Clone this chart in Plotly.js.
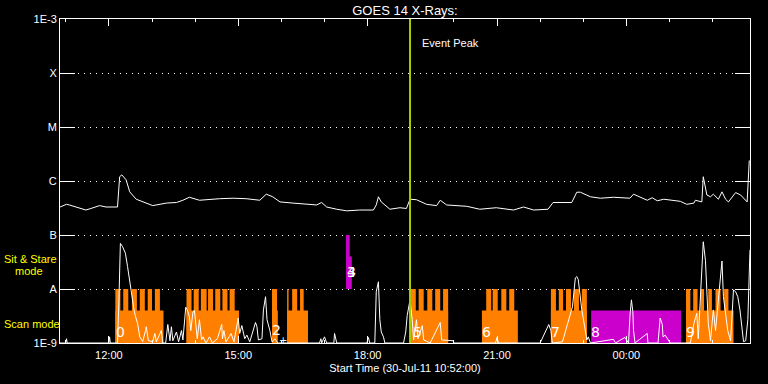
<!DOCTYPE html>
<html>
<head>
<meta charset="utf-8">
<script src="https://cdn.plot.ly/plotly-3.0.1.min.js"></script>
<style>html,body{margin:0;padding:0;background:#000;}#chart{width:768px;height:384px;}</style>
</head>
<body>
<div id="chart"></div>
<script>
// ---- data (times HH:MM; hours < 10 belong to 31-Jul-11) ----
const startDay = '2011-07-30';
const endDay = '2011-07-31';
const rangeStart = '10:52';
const rangeEnd = '02:52';

const yTickVals = [1e-9, 1e-8, 1e-7, 1e-6, 1e-5, 1e-4, 1e-3];
const yTickText = ['1E-9', 'A', 'B', 'C', 'M', 'X', '1E-3'];

// GOES long channel (1-8 A)
const longT = ['10:52','11:01','11:05','11:15','11:28','11:35','11:47','11:56','12:12','12:15',
               '12:18','12:24','12:29','12:38','12:52','13:01','13:20','13:34','13:43','13:52',
               '14:06','14:20','14:34','14:53','15:11','15:30','15:39','15:48','15:58','16:16',
               '16:35','16:49','16:56','17:03','17:17','17:31','17:49','18:08','18:12','18:15',
               '18:19','18:31','18:45','18:54','18:59','19:08','19:22','19:36','19:41','19:50',
               '20:18','20:36','20:59','21:23','21:37','21:51','22:11','22:18','22:44','22:51',
               '22:56','23:10','23:24','23:42','00:05','00:10','00:29','00:36','00:43','00:52',
               '01:15','01:24','01:34','01:36','01:45','01:47','01:52','01:57','02:01','02:08',
               '02:13','02:18','02:22','02:32','02:39','02:48','02:51'];
const longF = [3.3e-7,3.7e-7,3.6e-7,3.3e-7,2.9e-7,3.1e-7,3.5e-7,3.3e-7,3.3e-7,1.2e-6,
               1.3e-6,1.05e-6,6.3e-7,4.6e-7,3.9e-7,3.5e-7,3.9e-7,4.0e-7,4.4e-7,5.0e-7,
               4.4e-7,4.6e-7,4.7e-7,4.8e-7,4.7e-7,4.4e-7,5.7e-7,5.1e-7,4.1e-7,3.9e-7,
               3.7e-7,3.6e-7,4.0e-7,3.3e-7,3.0e-7,2.8e-7,2.9e-7,2.9e-7,3.6e-7,5.1e-7,
               4.1e-7,3.0e-7,3.2e-7,3.1e-7,4.6e-7,4.5e-7,3.7e-7,3.5e-7,4.4e-7,3.6e-7,
               3.4e-7,3.0e-7,3.2e-7,2.9e-7,3.3e-7,2.9e-7,3.0e-7,4.0e-7,4.0e-7,6.2e-7,
               6.2e-7,5.1e-7,4.8e-7,5.0e-7,4.8e-7,5.7e-7,4.4e-7,4.9e-7,4.3e-7,4.6e-7,
               4.2e-7,3.7e-7,3.9e-7,4.4e-7,4.1e-7,1.2e-6,5.5e-7,5.1e-7,5.7e-7,4.6e-7,
               6.3e-7,4.6e-7,4.1e-7,6.1e-7,5.5e-7,4.1e-7,2.4e-6];

// GOES short channel (0.5-4 A)
const shortT = ['10:52','11:00','11:01','11:02','12:00','12:01','12:02','12:12','12:14','12:16',
                '12:19','12:23','12:26','12:30','12:33','12:35','12:37','12:40','12:43','12:47',
                '12:51','12:52','12:55','13:01','13:04','13:06','13:13','13:15','13:19','13:22',
                '13:25','13:27','13:29','13:34','13:37','13:41','13:43','13:45','13:47','13:49',
                '13:52','13:54','13:57','13:59','14:02','14:03','14:06','14:09','14:11','14:15',
                '14:20','14:24','14:31','14:37','14:38','14:40','14:43','14:50','14:54','15:00',
                '15:02','15:05','15:09','15:12','15:16','15:24','15:26','15:28','15:33','15:35',
                '15:38','15:40','15:44','15:47','15:51','15:55','16:53','16:55','16:56','17:00',
                '17:03','17:13','17:14','17:17','17:59','18:01','18:03','18:10','18:12','18:15',
                '18:17','18:19','18:22','18:24','18:50','18:53','18:55','18:57','18:59','19:02',
                '19:04','19:08','19:10','19:16','19:18','19:27','19:41','19:43','19:59','20:00',
                '20:58','21:00','21:02','22:00','22:12','22:15','22:17','22:31','22:45','22:49',
                '22:51','22:53','22:56','22:58','23:02','23:05','23:07','23:10','23:42','23:45',
                '23:58','00:03','00:05','00:07','00:09','00:10','00:12','00:29','00:30','00:44',
                '00:47','00:50','00:51','00:54','01:01','01:29','01:34','01:38','01:40','01:45',
                '01:47','01:50','01:52','01:54','01:57','02:01','02:04','02:08','02:11','02:13',
                '02:15','02:18','02:21','02:25','02:29','02:32','02:35','02:38','02:41','02:43',
                '02:46','02:49','02:52'];
const shortF = [1e-9,1e-9,1.2e-9,1e-9,1e-9,1.3e-9,1e-9,1e-9,6.3e-9,7.0e-8,
                6.1e-8,4.6e-8,2.6e-8,1.1e-8,7.2e-9,4.1e-9,3.1e-9,2.3e-9,1.3e-9,1.06e-9,
                1.7e-9,2.0e-9,1.1e-9,1.06e-9,1.5e-9,1.05e-9,1.7e-9,1e-9,1e-9,2.2e-9,
                1.1e-9,2.0e-9,1.1e-9,1.6e-9,1.05e-9,1.7e-9,1.14e-9,2.9e-9,4.6e-9,4.1e-9,
                3.1e-9,1.7e-9,3.8e-9,4.0e-9,1.7e-9,1.2e-9,2.7e-9,1.14e-9,1.3e-9,1e-9,
                1.3e-9,1e-9,1.2e-9,2.2e-9,1.2e-9,1.7e-9,1.05e-9,1.5e-9,1.05e-9,2.9e-9,
                1.5e-9,2.1e-9,1.2e-9,1.4e-9,1.05e-9,2.4e-9,2.0e-9,1.14e-9,1.2e-9,4.1e-9,
                7.2e-9,2.7e-9,1.7e-9,1.05e-9,1.2e-9,1e-9,1e-9,1.2e-9,1e-9,1.3e-9,
                1e-9,1e-9,1.5e-9,1e-9,1e-9,1.27e-9,1e-9,1e-9,8.9e-9,1.36e-8,
                2.7e-9,1.6e-9,1.3e-9,1e-9,1e-9,1.6e-9,3.2e-9,4.4e-9,6.3e-9,2.7e-9,
                1.14e-9,2.7e-9,1.2e-9,2.1e-9,1.14e-9,1e-9,2.4e-9,1.14e-9,1.1e-9,1e-9,
                1e-9,1.27e-9,1e-9,1e-9,2.2e-9,1.7e-9,1e-9,1.05e-9,4.7e-9,1.6e-8,
                1.7e-8,1.5e-8,7.2e-9,4.1e-9,2.0e-9,1.14e-9,1.3e-9,1e-9,1.17e-9,1e-9,
                1.27e-9,1e-9,3.2e-9,6.3e-9,3.8e-9,1.7e-9,1e-9,1.5e-9,1e-9,1e-9,
                2.9e-9,2.2e-9,1.3e-9,1.4e-9,1e-9,1e-9,2.3e-9,3.55e-9,1.2e-9,3.4e-8,
                7.5e-8,3.4e-8,7.2e-9,2.3e-9,1.1e-9,4.1e-9,1.7e-9,7.2e-9,2.25e-8,3.3e-8,
                7.2e-9,3.1e-9,1.7e-9,1.1e-9,9.6e-9,8.9e-9,7.2e-9,4.1e-9,1.7e-9,1.06e-9,
                1.1e-9,2.7e-9,5.3e-8];

// Scan mode observations
const scanBase = 1e-9, scanLow = 4e-9, scanHigh = 1e-8;
const scanStart = ['12:09','13:48','15:47','16:08','19:00','20:39','22:15','01:23'];
const scanEnd   = ['13:16','15:01','15:55','16:37','19:52','21:29','23:05','02:29'];
const peakStart = ['12:09','12:20','12:32','12:43','12:54','13:04',
                   '13:48','13:58','14:08','14:18','14:28','14:38','14:48',
                   '15:47','16:08','16:15','16:26',
                   '19:00','19:11','19:23','19:34','19:45',
                   '20:45','20:54','21:06','21:17',
                   '22:15','22:26','22:36','22:47','22:58',
                   '01:23','01:33','01:43','01:54','02:04','02:16'];
const peakEnd   = ['12:16','12:27','12:39','12:50','13:00','13:11',
                   '13:55','14:05','14:16','14:25','14:35','14:45','14:55',
                   '15:54','16:10','16:22','16:31',
                   '19:07','19:18','19:30','19:41','19:52',
                   '20:52','21:01','21:13','21:24',
                   '22:22','22:32','22:43','22:54','23:05',
                   '01:29','01:39','01:48','01:59','02:11','02:22'];

// Sit & Stare observations
const sitStart = ['17:30','17:35','23:11'];
const sitEnd   = ['17:35','17:38','01:16'];
const sitBase  = [1e-8, 1e-8, 1e-9];
const sitTop   = [1e-7, 4e-8, 4e-9];

// Block labels
const blockLabels = ['0', '2', '+', '3', '4', '5', '6', '7', '8', '9'];
const blockLabelT = ['12:16','15:53','16:02','17:38','17:38','19:09','20:46','22:22','23:17','01:29'];
const blockLabelF = [1.6e-9, 1.75e-9, 1.1e-9, 2.1e-8, 2.1e-8, 1.6e-9, 1.6e-9, 1.6e-9, 1.6e-9, 1.6e-9];
const blockLabelSize = [14, 14, 10, 14, 14, 14, 14, 14, 14, 14];

const eventPeakT = '18:59';

// ---- helpers ----
function toDate(hhmm) {
  const h = parseInt(hhmm.split(':')[0], 10);
  return (h < 10 ? endDay : startDay) + ' ' + hhmm;
}
function rects(t0s, t1s, los, his) {
  const x = [], y = [];
  for (let i = 0; i < t0s.length; i++) {
    const a = toDate(t0s[i]), b = toDate(t1s[i]);
    const lo = Array.isArray(los) ? los[i] : los;
    const hi = Array.isArray(his) ? his[i] : his;
    x.push(a, a, b, b, a, null);
    y.push(lo, hi, hi, lo, lo, null);
  }
  return {x, y};
}

const ORANGE = '#ff8000', MAGENTA = '#cc00cc', YELLOW = '#ffff00', GREEN = '#a4cc00';

const scanLowR = rects(scanStart, scanEnd, scanBase, scanLow);
const scanHighR = rects(peakStart, peakEnd, scanBase, scanHigh);
const sitR = rects(sitStart, sitEnd, sitBase, sitTop);

const fillTrace = (r, c) => ({
  x: r.x, y: r.y, type: 'scatter', mode: 'lines', fill: 'toself',
  fillcolor: c, line: {width: 0, color: c}, hoverinfo: 'skip', connectgaps: false
});

const traces = [
  fillTrace(scanLowR, ORANGE),
  fillTrace(scanHighR, ORANGE),
  fillTrace(sitR, MAGENTA),
  {x: longT.map(toDate), y: longF, type: 'scatter', mode: 'lines',
   line: {color: 'white', width: 1}},
  {x: shortT.map(toDate), y: shortF, type: 'scatter', mode: 'lines',
   line: {color: 'white', width: 1}}
];

const annotations = blockLabels.map((t, i) => ({
  text: t, x: toDate(blockLabelT[i]), y: Math.log10(blockLabelF[i]),
  xref: 'x', yref: 'y', showarrow: false, xanchor: 'center', yanchor: 'middle',
  font: {family: 'DejaVu Sans', size: blockLabelSize[i], color: 'white'}
}));
annotations.push(
  {text: 'Event Peak', x: toDate(eventPeakT), xref: 'x', xshift: 10, xanchor: 'left',
   y: 0.926, yref: 'paper', yanchor: 'middle', showarrow: false,
   font: {family: 'Liberation Sans', size: 11, color: 'white'}},
  {text: 'Sit & Stare', x: 0, xref: 'paper', xshift: -58, xanchor: 'left',
   y: 0.259, yref: 'paper', yanchor: 'middle', showarrow: false,
   font: {family: 'Liberation Sans', size: 11, color: YELLOW}},
  {text: 'mode', x: 0, xref: 'paper', xshift: -47, xanchor: 'left',
   y: 0.222, yref: 'paper', yanchor: 'middle', showarrow: false,
   font: {family: 'Liberation Sans', size: 11, color: YELLOW}},
  {text: 'Scan mode', x: 0, xref: 'paper', xshift: -58, xanchor: 'left',
   y: 0.059, yref: 'paper', yanchor: 'middle', showarrow: false,
   font: {family: 'Liberation Sans', size: 11, color: YELLOW}}
);

const layout = {
  width: 768, height: 384,
  paper_bgcolor: 'black', plot_bgcolor: 'black',
  margin: {l: 60, r: 18, t: 19, b: 41},
  showlegend: false,
  font: {family: 'Liberation Sans', color: 'white', size: 11},
  title: {text: 'GOES 14 X-Rays:', font: {family: 'Liberation Sans', size: 13, color: 'white'},
          x: 0.5, xref: 'paper', xanchor: 'center', y: 1 - 10 / 384, yref: 'container', yanchor: 'middle'},
  xaxis: {
    type: 'date',
    range: [startDay + ' ' + rangeStart, endDay + ' ' + rangeEnd],
    tick0: startDay + ' 12:00', dtick: 3 * 3600000, tickformat: '%H:%M',
    ticks: 'inside', ticklen: 7, tickwidth: 1, tickcolor: 'white',
    ticklabelstandoff: 2,
    minor: {tick0: startDay + ' 11:00', dtick: 3600000, ticks: 'inside', ticklen: 3,
            tickcolor: 'white', tickwidth: 1, showgrid: false},
    showline: true, linecolor: 'white', linewidth: 1, mirror: 'ticks',
    showgrid: false, zeroline: false,
    tickfont: {family: 'Liberation Sans', size: 11, color: 'white'},
    title: {text: 'Start Time (30-Jul-11 10:52:00)', standoff: 4,
            font: {family: 'Liberation Sans', size: 11, color: 'white'}},
    fixedrange: true
  },
  yaxis: {
    type: 'log', range: [-9, -3],
    tickmode: 'array', tickvals: yTickVals, ticktext: yTickText,
    ticks: 'inside', ticklen: 15, tickwidth: 1, tickcolor: 'white',
    showline: true, linecolor: 'white', linewidth: 1, mirror: 'ticks',
    showgrid: true, gridcolor: 'white', gridwidth: 1, griddash: '1px,5px',
    zeroline: false,
    tickfont: {family: 'Liberation Sans', size: 11, color: 'white'},
    fixedrange: true
  },
  shapes: [{type: 'line', xref: 'x', yref: 'paper', x0: toDate(eventPeakT), x1: toDate(eventPeakT),
            y0: 0, y1: 1, line: {color: GREEN, width: 2}, layer: 'above'}],
  annotations: annotations
};

Plotly.newPlot('chart', traces, layout, {displayModeBar: false, staticPlot: true});
</script>
</body>
</html>
